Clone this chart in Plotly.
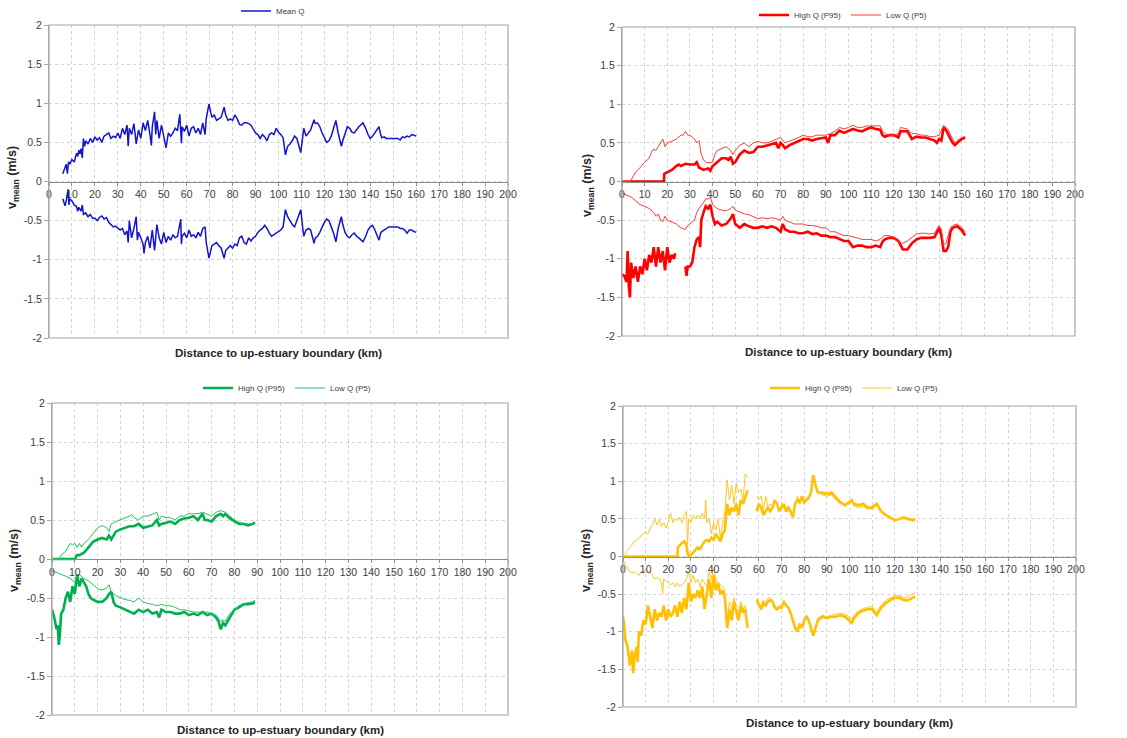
import plotly.graph_objects as go

# ---------------- data ----------------
x_tick_vals = list(range(0, 201, 10))
x_tick_labels = [str(v) for v in x_tick_vals]
y_tick_vals = [2, 1.5, 1, 0.5, 0, -0.5, -1, -1.5, -2]
y_tick_labels = ["2", "1.5", "1", "0.5", "0", "-0.5", "-1", "-1.5", "-2"]

# Panel 1 - Mean Q (blue)
mean_flood = [(6,0.10),(7,0.18),(7.5,0.22),(8,0.10),(8.5,0.25),(9,0.22),(10,0.28),(11,0.25),(12,0.36),(12.5,0.32),(13,0.40),(13.5,0.35),(14,0.42),(14.5,0.30),(15,0.55),(15.5,0.45),(16,0.52),(17,0.48),(18,0.55),(19,0.50),(20,0.57),(21,0.53),(22,0.56),(23,0.50),(24,0.58),(25,0.60),(26,0.62),(27,0.55),(28,0.58),(29,0.56),(30,0.62),(31,0.55),(32,0.68),(33,0.60),(34,0.72),(34.5,0.45),(35,0.68),(36,0.60),(37,0.74),(38,0.48),(39,0.66),(40,0.55),(41,0.75),(42,0.65),(43,0.78),(44,0.60),(44.6,0.46),(45,0.70),(46,0.89),(46.5,0.60),(47,0.78),(48,0.55),(49,0.72),(50,0.58),(51,0.43),(52,0.62),(53,0.58),(54,0.62),(55,0.68),(56,0.65),(57,0.86),(57.7,0.49),(58,0.70),(59,0.64),(60,0.72),(61,0.58),(62,0.68),(63,0.70),(64,0.62),(65,0.68),(66,0.60),(67,0.75),(68,0.60),(68.5,0.80),(69.7,0.99),(70.5,0.88),(71,0.82),(72,0.85),(73,0.78),(74,0.80),(75,0.82),(76.3,0.95),(77,0.85),(78,0.78),(79,0.80),(80,0.78),(81,0.85),(82,0.80),(83,0.73),(84,0.72),(85,0.75),(86,0.75),(87,0.74),(88,0.72),(89,0.67),(90,0.62),(91,0.60),(92,0.55),(93,0.60),(94,0.57),(95,0.52),(96,0.60),(97,0.62),(98,0.60),(99,0.68),(100,0.63),(101,0.60),(102,0.56),(103,0.34),(104,0.45),(105,0.48),(106,0.52),(107,0.58),(108,0.55),(109.7,0.37),(110.5,0.55),(111,0.68),(112,0.58),(113,0.62),(114,0.66),(115.5,0.79),(116,0.74),(117,0.75),(118,0.70),(119,0.62),(120,0.55),(121,0.50),(122,0.52),(123,0.58),(124,0.68),(125,0.78),(126,0.62),(127.4,0.45),(128,0.52),(129,0.62),(130,0.70),(131,0.68),(132,0.63),(133,0.62),(134,0.66),(135,0.70),(136.8,0.75),(138,0.68),(139,0.60),(140,0.55),(141,0.58),(142,0.62),(143.8,0.70),(144.5,0.60),(145,0.56),(146,0.57),(147,0.55),(148,0.55),(150,0.55),(152,0.55),(153,0.53),(154,0.57),(155,0.56),(156,0.58),(157,0.57),(158,0.60),(159,0.59),(160,0.58)]
mean_ebb = [(6,-0.22),(6.5,-0.28),(7,-0.31),(7.5,-0.25),(8.3,-0.10),(8.7,-0.30),(9,-0.22),(10,-0.25),(11,-0.30),(12,-0.32),(12.5,-0.38),(13,-0.33),(14,-0.38),(14.5,-0.30),(15,-0.42),(16,-0.40),(17,-0.45),(18,-0.42),(19,-0.47),(20,-0.47),(21,-0.50),(22,-0.46),(23,-0.44),(24,-0.48),(25,-0.46),(26,-0.52),(27,-0.55),(28,-0.58),(29,-0.57),(30,-0.60),(31,-0.62),(32,-0.60),(33,-0.68),(34,-0.63),(34.5,-0.78),(35,-0.50),(36,-0.72),(37,-0.60),(38,-0.45),(38.5,-0.75),(39,-0.65),(40,-0.72),(41,-0.80),(41.4,-0.92),(42,-0.78),(43,-0.70),(44,-0.85),(45,-0.62),(46,-0.88),(47,-0.55),(48,-0.72),(49,-0.80),(50,-0.65),(51,-0.78),(52,-0.70),(53,-0.75),(54,-0.68),(55,-0.72),(56,-0.70),(57.4,-0.48),(57.7,-0.80),(58,-0.70),(59,-0.66),(60,-0.72),(61,-0.62),(62,-0.70),(63,-0.68),(64,-0.72),(65,-0.65),(66,-0.70),(67,-0.60),(68,-0.58),(68.5,-0.78),(69.7,-0.98),(70.5,-0.90),(71,-0.82),(72,-0.80),(73,-0.78),(74,-0.82),(75,-0.85),(76.3,-0.98),(77,-0.88),(78,-0.85),(79,-0.82),(80,-0.85),(81,-0.80),(82,-0.82),(83,-0.72),(84,-0.70),(85,-0.78),(86,-0.80),(87,-0.72),(88,-0.76),(89,-0.72),(90,-0.70),(91,-0.65),(92,-0.62),(93,-0.60),(94,-0.56),(95,-0.60),(96,-0.66),(97,-0.70),(98,-0.68),(99,-0.66),(100,-0.65),(101,-0.62),(102,-0.58),(103,-0.36),(104,-0.45),(105,-0.50),(106,-0.55),(107,-0.58),(108,-0.50),(109.7,-0.36),(110.5,-0.58),(111,-0.70),(112,-0.62),(113,-0.60),(114,-0.62),(115.5,-0.79),(116,-0.72),(117,-0.70),(118,-0.65),(119,-0.58),(120,-0.52),(121,-0.48),(122,-0.50),(123,-0.58),(124,-0.66),(125,-0.77),(126,-0.60),(127.4,-0.45),(128,-0.55),(129,-0.65),(130,-0.70),(131,-0.72),(132,-0.68),(133,-0.66),(134,-0.70),(135,-0.72),(136.8,-0.77),(138,-0.70),(139,-0.62),(140,-0.58),(141,-0.56),(142,-0.62),(143.8,-0.75),(144.5,-0.66),(145,-0.64),(146,-0.62),(147,-0.60),(148,-0.58),(150,-0.58),(152,-0.58),(153,-0.60),(154,-0.60),(155,-0.62),(156,-0.66),(157,-0.62),(158,-0.62),(159,-0.64),(160,-0.65)]

# Panel 2 - red
red_high_flood = [(0,0),(18.5,0),(18.7,0.10),(20,0.12),(22,0.15),(24,0.20),(25,0.22),(26,0.20),(28,0.23),(30,0.22),(32,0.22),(33,0.25),(34,0.18),(36,0.15),(38,0.17),(39,0.14),(40,0.20),(42,0.25),(44,0.30),(46,0.30),(47,0.28),(48,0.32),(49,0.23),(50,0.25),(52,0.35),(54,0.40),(56,0.37),(58,0.38),(60,0.45),(62,0.45),(64,0.47),(66,0.48),(68,0.50),(69,0.43),(70,0.50),(71,0.47),(72,0.43),(74,0.47),(76,0.50),(78,0.52),(80,0.55),(82,0.55),(84,0.53),(86,0.55),(88,0.56),(90,0.57),(91,0.50),(92,0.60),(94,0.60),(96,0.66),(98,0.63),(100,0.65),(102,0.68),(104,0.66),(106,0.65),(108,0.68),(110,0.70),(112,0.68),(114,0.67),(115,0.60),(116,0.58),(118,0.60),(120,0.60),(122,0.57),(123,0.65),(126,0.65),(127,0.60),(128,0.55),(130,0.58),(132,0.57),(134,0.57),(136,0.55),(138,0.53),(139,0.50),(140,0.55),(141,0.53),(142,0.70),(143,0.67),(144,0.60),(145,0.55),(146,0.50),(147,0.47),(148,0.50),(150,0.55),(151.5,0.57)]
red_low_flood = [(0,0),(3.5,0),(4,0.02),(6,0.12),(8,0.18),(10,0.25),(12,0.30),(13,0.38),(14,0.42),(15,0.40),(16,0.45),(17,0.50),(18,0.55),(19,0.45),(20,0.50),(22,0.52),(24,0.55),(26,0.60),(27,0.60),(28,0.65),(29,0.60),(30,0.60),(32,0.55),(33,0.50),(34,0.53),(35,0.35),(36,0.28),(37,0.25),(38,0.24),(40,0.25),(41,0.35),(42,0.40),(44,0.42),(46,0.45),(48,0.40),(49,0.35),(50,0.40),(52,0.47),(54,0.50),(56,0.45),(58,0.50),(60,0.52),(62,0.50),(64,0.50),(66,0.52),(68,0.55),(70,0.57),(72,0.50),(74,0.52),(76,0.55),(78,0.57),(80,0.60),(82,0.58),(84,0.58),(86,0.60),(88,0.60),(90,0.60),(92,0.62),(94,0.65),(96,0.70),(98,0.68),(100,0.70),(102,0.73),(104,0.70),(106,0.70),(108,0.72),(110,0.72),(112,0.72),(114,0.72),(115,0.65),(116,0.62),(118,0.60),(120,0.60),(122,0.62),(123,0.70),(126,0.68),(128,0.62),(130,0.62),(132,0.60),(134,0.60),(136,0.58),(138,0.58),(140,0.60),(142,0.73),(143,0.70),(144,0.67),(146,0.55),(147,0.50),(148,0.53),(150,0.57),(151.5,0.58)]
red_high_ebb = [(0,-1.20),(1,-1.22),(2,-1.30),(2.5,-0.90),(3,-1.35),(3.5,-1.50),(4,-1.05),(5,-1.25),(6,-1.10),(7,-1.30),(8,-1.10),(9,-1.20),(10,-1.00),(11,-1.15),(12,-0.95),(13,-1.05),(14,-0.85),(15,-1.10),(16,-0.85),(17,-1.05),(18,-0.90),(19,-1.15),(20,-0.85),(21,-1.05),(22,-0.95),(23,-1.00),(23.5,-0.93),(25,None),(28,-1.10),(28.5,-1.22),(29,-1.10),(30,-1.10),(31,-1.05),(32,-0.85),(33,-0.75),(34,-0.72),(34.5,-0.85),(35,-0.50),(36,-0.40),(37,-0.32),(38,-0.35),(39,-0.30),(40,-0.45),(41,-0.55),(42,-0.52),(44,-0.57),(46,-0.55),(48,-0.48),(49,-0.42),(50,-0.55),(52,-0.60),(54,-0.55),(56,-0.58),(58,-0.60),(60,-0.60),(62,-0.58),(64,-0.60),(66,-0.58),(68,-0.60),(70,-0.65),(71,-0.55),(72,-0.62),(74,-0.65),(76,-0.65),(78,-0.67),(80,-0.67),(82,-0.65),(84,-0.68),(86,-0.67),(88,-0.70),(90,-0.70),(92,-0.72),(94,-0.72),(96,-0.75),(98,-0.77),(100,-0.77),(102,-0.85),(104,-0.83),(106,-0.83),(108,-0.85),(110,-0.85),(112,-0.83),(114,-0.85),(115,-0.78),(116,-0.75),(118,-0.73),(120,-0.73),(122,-0.77),(124,-0.88),(126,-0.88),(128,-0.80),(130,-0.75),(132,-0.73),(134,-0.73),(136,-0.73),(138,-0.72),(140,-0.60),(141,-0.70),(142,-0.90),(143,-0.90),(144,-0.85),(145,-0.65),(146,-0.60),(148,-0.58),(150,-0.63),(151.5,-0.70)]
red_low_ebb = [(0,-0.15),(2,-0.17),(4,-0.20),(6,-0.25),(8,-0.30),(10,-0.32),(12,-0.35),(14,-0.40),(15,-0.45),(16,-0.42),(17,-0.50),(18,-0.52),(19,-0.45),(20,-0.50),(22,-0.52),(24,-0.55),(26,-0.60),(28,-0.62),(29,-0.57),(30,-0.55),(32,-0.50),(33,-0.40),(34,-0.35),(36,-0.27),(37,-0.22),(38,-0.23),(39,-0.20),(40,-0.30),(42,-0.35),(44,-0.37),(46,-0.38),(48,-0.35),(49,-0.32),(50,-0.37),(52,-0.40),(54,-0.42),(56,-0.43),(58,-0.45),(60,-0.48),(62,-0.47),(64,-0.48),(66,-0.47),(68,-0.48),(70,-0.50),(71,-0.45),(72,-0.50),(74,-0.52),(76,-0.55),(78,-0.55),(80,-0.55),(82,-0.57),(84,-0.57),(86,-0.58),(88,-0.60),(90,-0.60),(92,-0.65),(94,-0.65),(96,-0.68),(98,-0.70),(100,-0.70),(102,-0.72),(104,-0.73),(106,-0.75),(108,-0.75),(110,-0.75),(112,-0.77),(114,-0.75),(115,-0.72),(116,-0.70),(118,-0.70),(120,-0.72),(122,-0.78),(124,-0.80),(126,-0.77),(128,-0.72),(130,-0.68),(132,-0.67),(134,-0.67),(136,-0.68),(138,-0.67),(140,-0.57),(141,-0.62),(142,-0.82),(143,-0.80),(144,-0.70),(145,-0.60),(146,-0.57),(148,-0.55),(150,-0.60),(151.5,-0.65)]

# Panel 3 - green
green_high_flood = [(0,0),(10,0),(10.5,0.02),(11,0.05),(12,0.05),(14,0.08),(16,0.15),(18,0.22),(20,0.25),(22,0.27),(24,0.25),(25,0.30),(26,0.25),(28,0.35),(30,0.38),(32,0.40),(34,0.42),(36,0.42),(38,0.45),(40,0.40),(42,0.42),(44,0.43),(46,0.50),(47,0.43),(48,0.45),(50,0.47),(52,0.48),(54,0.45),(56,0.50),(58,0.52),(60,0.53),(62,0.55),(64,0.50),(66,0.58),(67,0.50),(68,0.50),(70,0.48),(72,0.55),(74,0.58),(75,0.55),(76,0.58),(78,0.52),(80,0.48),(82,0.45),(84,0.45),(86,0.43),(88,0.45),(89,0.47)]
green_low_flood = [(0,0),(3,0),(4,0.05),(6,0.10),(7,0.15),(8,0.20),(9,0.18),(10,0.20),(11,0.15),(12,0.20),(13,0.15),(14,0.20),(16,0.25),(18,0.32),(20,0.40),(22,0.43),(24,0.40),(25,0.35),(26,0.45),(28,0.48),(30,0.50),(32,0.53),(34,0.55),(35,0.57),(36,0.53),(38,0.50),(40,0.55),(42,0.55),(44,0.57),(46,0.60),(47,0.50),(48,0.55),(50,0.53),(52,0.53),(54,0.50),(56,0.55),(58,0.55),(60,0.58),(62,0.58),(64,0.58),(66,0.60),(68,0.58),(70,0.55),(72,0.60),(74,0.62),(76,0.60),(78,0.55),(80,0.50),(82,0.47),(84,0.45),(86,0.45),(88,0.45),(89,0.45)]
green_high_ebb = [(0,-0.65),(1,-0.75),(2,-0.90),(2.5,-0.85),(3,-1.10),(3.5,-0.95),(4,-0.70),(5,-0.65),(6,-0.50),(7,-0.42),(8,-0.55),(9,-0.35),(10,-0.45),(11,-0.20),(12,-0.35),(13,-0.25),(14,-0.30),(15,-0.35),(16,-0.45),(17,-0.50),(18,-0.52),(20,-0.55),(22,-0.55),(24,-0.50),(25,-0.45),(26,-0.42),(27,-0.55),(28,-0.60),(30,-0.62),(32,-0.65),(34,-0.67),(36,-0.70),(38,-0.65),(40,-0.68),(42,-0.65),(44,-0.70),(46,-0.68),(47,-0.75),(48,-0.65),(50,-0.68),(52,-0.68),(54,-0.70),(56,-0.70),(58,-0.68),(60,-0.72),(62,-0.70),(64,-0.72),(66,-0.68),(68,-0.72),(70,-0.70),(72,-0.75),(73,-0.80),(74,-0.90),(75,-0.82),(76,-0.85),(78,-0.75),(80,-0.65),(82,-0.62),(84,-0.58),(86,-0.58),(88,-0.57),(89,-0.55)]
green_low_ebb = [(0,-0.15),(2,-0.17),(4,-0.20),(6,-0.22),(8,-0.25),(10,-0.30),(11,-0.20),(12,-0.20),(14,-0.25),(16,-0.28),(18,-0.33),(20,-0.38),(22,-0.40),(24,-0.37),(25,-0.33),(26,-0.42),(28,-0.47),(30,-0.50),(32,-0.52),(34,-0.53),(36,-0.55),(38,-0.50),(40,-0.55),(42,-0.57),(44,-0.58),(46,-0.60),(48,-0.58),(50,-0.60),(52,-0.60),(54,-0.62),(56,-0.65),(58,-0.65),(60,-0.67),(62,-0.68),(64,-0.68),(66,-0.68),(68,-0.68),(70,-0.70),(72,-0.72),(74,-0.80),(75,-0.78),(76,-0.80),(78,-0.70),(80,-0.65),(82,-0.60),(84,-0.57),(86,-0.56),(88,-0.55),(89,-0.53)]

# Panel 4 - yellow
yellow_high_flood = [(0,0),(24,0),(24.2,0.12),(25,0.15),(26,0.18),(27,0.20),(28,0.15),(28.5,0.05),(29,0.0),(30,0.02),(31,0.05),(32,0.08),(33,0.12),(34,0.10),(35,0.15),(36,0.20),(37,0.22),(38,0.20),(39,0.25),(40,0.22),(41,0.30),(42,0.25),(43,0.20),(44,0.30),(45,0.35),(45.5,0.55),(46,0.70),(47,0.55),(48,0.65),(49,0.60),(50,0.70),(51,0.55),(52,0.75),(53,0.70),(54,0.80),(55,0.88),(57,None),(59,0.60),(60,0.70),(61,0.65),(62,0.55),(63,0.60),(64,0.65),(65,0.60),(66,0.65),(67,0.75),(68,0.70),(69,0.60),(70,0.65),(71,0.70),(72,0.60),(73,0.65),(74,0.60),(75,0.52),(76,0.70),(77,0.75),(78,0.72),(79,0.80),(80,0.72),(81,0.75),(82,0.78),(83,0.85),(84,1.08),(85,0.95),(86,0.85),(88,0.85),(90,0.83),(92,0.85),(94,0.78),(96,0.72),(98,0.68),(100,0.73),(101,0.75),(102,0.70),(104,0.68),(106,0.70),(108,0.65),(110,0.65),(112,0.70),(114,0.60),(116,0.55),(118,0.52),(120,0.48),(122,0.50),(124,0.52),(126,0.50),(128,0.48),(129,0.50)]
yellow_low_flood = [(0,0),(1,0.03),(2,0.08),(3,0.12),(4,0.15),(5,0.20),(6,0.22),(7,0.25),(8,0.28),(9,0.30),(10,0.33),(11,0.30),(12,0.38),(13,0.42),(14,0.50),(15,0.42),(16,0.50),(17,0.40),(18,0.45),(19,0.38),(20,0.45),(21,0.58),(22,0.45),(23,0.50),(24,0.48),(25,0.52),(26,0.45),(27,0.55),(28,0.60),(28.5,0.15),(29,0.50),(30,0.45),(31,0.55),(32,0.50),(33,0.55),(34,0.50),(35,0.58),(36,0.50),(36.5,0.75),(37,0.45),(38,0.50),(39,0.30),(40,0.45),(41,0.35),(42,0.50),(43,0.25),(44,0.45),(45,0.60),(46,1.02),(47,0.75),(48,0.95),(49,0.70),(50,0.98),(51,0.85),(52,0.90),(53,0.75),(54,1.10),(55,1.05),(57,None),(59,0.80),(60,0.75),(61,0.80),(62,0.60),(63,0.80),(64,0.65),(65,0.70),(66,0.65),(67,0.75),(68,0.70),(69,0.60),(70,0.70),(71,0.65),(72,0.65),(73,0.60),(74,0.60),(75,0.55),(76,0.70),(77,0.80),(78,0.75),(79,0.78),(80,0.73),(81,0.78),(82,0.80),(83,0.87),(84,1.05),(85,0.95),(86,0.85),(88,0.82),(90,0.80),(92,0.82),(94,0.75),(96,0.70),(98,0.68),(100,0.70),(101,0.72),(102,0.67),(104,0.65),(106,0.67),(108,0.63),(110,0.63),(112,0.68),(114,0.60),(116,0.55),(118,0.50),(120,0.48),(122,0.50),(124,0.50),(126,0.48),(128,0.47),(129,0.48)]
yellow_high_ebb = [(0,-0.80),(0.5,-0.90),(1,-1.10),(2,-1.20),(3,-1.45),(4,-1.25),(4.5,-1.55),(5,-1.35),(6,-1.20),(6.5,-1.40),(7,-1.00),(8,-1.05),(9,-0.85),(10,-0.90),(11,-0.65),(12,-0.80),(13,-0.95),(14,-0.70),(15,-0.85),(16,-0.75),(17,-0.80),(18,-0.65),(19,-0.85),(20,-0.70),(21,-0.80),(22,-0.75),(23,-0.65),(24,-0.80),(25,-0.60),(26,-0.75),(27,-0.55),(28,-0.70),(29,-0.35),(30,-0.60),(31,-0.50),(32,-0.55),(33,-0.45),(34,-0.55),(35,-0.40),(36,-0.70),(37,-0.50),(38,-0.30),(39,-0.55),(40,-0.25),(41,-0.45),(42,-0.35),(43,-0.50),(44,-0.45),(45,-0.55),(45.5,-0.80),(46,-0.95),(47,-0.70),(48,-0.85),(49,-0.60),(50,-0.75),(51,-0.85),(52,-0.65),(53,-0.75),(54,-0.70),(55,-0.95),(57,None),(59,-0.58),(60,-0.65),(61,-0.70),(62,-0.62),(63,-0.65),(64,-0.60),(65,-0.58),(66,-0.60),(67,-0.68),(68,-0.70),(69,-0.68),(70,-0.68),(71,-0.60),(72,-0.65),(73,-0.68),(74,-0.75),(75,-0.85),(76,-0.95),(77,-1.00),(78,-0.90),(79,-0.95),(80,-0.85),(81,-0.80),(82,-0.85),(83,-0.95),(84,-1.05),(85,-0.95),(86,-0.85),(88,-0.80),(90,-0.82),(92,-0.80),(94,-0.80),(96,-0.78),(98,-0.80),(100,-0.85),(101,-0.88),(102,-0.82),(104,-0.75),(106,-0.72),(108,-0.70),(110,-0.70),(112,-0.78),(114,-0.68),(116,-0.62),(118,-0.58),(120,-0.55),(122,-0.55),(124,-0.58),(126,-0.58),(128,-0.55),(129,-0.53)]
yellow_low_ebb = [(0,-0.05),(1,-0.10),(2,-0.15),(3,-0.20),(4,-0.22),(5,-0.20),(6,-0.23),(7,-0.25),(8,-0.20),(9,-0.20),(10,-0.18),(11,-0.22),(12,-0.20),(13,-0.25),(14,-0.30),(15,-0.28),(16,-0.30),(17,-0.35),(17.5,-0.50),(18,-0.30),(19,-0.32),(20,-0.35),(21,-0.38),(22,-0.35),(23,-0.40),(24,-0.35),(25,-0.40),(26,-0.38),(27,-0.35),(28,-0.30),(29,-0.20),(30,-0.35),(31,-0.25),(32,-0.35),(33,-0.30),(34,-0.40),(35,-0.30),(36,-0.35),(37,-0.40),(38,-0.20),(39,-0.30),(40,-0.15),(41,-0.30),(42,-0.35),(43,-0.38),(44,-0.40),(45,-0.45),(45.5,-0.60),(46,-0.80),(47,-0.60),(48,-0.70),(49,-0.55),(50,-0.70),(51,-0.75),(52,-0.60),(53,-0.70),(54,-0.65),(55,-0.90),(57,None),(59,-0.55),(60,-0.62),(61,-0.65),(62,-0.58),(63,-0.62),(64,-0.55),(65,-0.55),(66,-0.58),(67,-0.65),(68,-0.68),(69,-0.65),(70,-0.66),(71,-0.58),(72,-0.63),(73,-0.66),(74,-0.72),(75,-0.82),(76,-0.92),(77,-0.98),(78,-0.88),(79,-0.92),(80,-0.82),(81,-0.78),(82,-0.82),(83,-0.92),(84,-1.02),(85,-0.92),(86,-0.82),(88,-0.78),(90,-0.80),(92,-0.78),(94,-0.77),(96,-0.75),(98,-0.77),(100,-0.80),(101,-0.83),(102,-0.78),(104,-0.72),(106,-0.70),(108,-0.67),(110,-0.67),(112,-0.73),(114,-0.65),(116,-0.58),(118,-0.55),(120,-0.52),(122,-0.52),(124,-0.55),(126,-0.53),(128,-0.50),(129,-0.48)]

# ---------------- figure ----------------
W, H = 1127, 738
FONT = "Liberation Sans, Arial, sans-serif"

def fx(px):
    return px / W

def fy(py):
    return 1 - py / H

# plot-area boxes in pixels: left, right, top, bottom
boxes = [(49, 508, 25, 338), (622, 1075, 27, 336), (52, 508, 403, 715), (623, 1076, 406, 707)]
legend_px = [(282, 11), (846, 15), (290, 388), (857, 388)]
xtitle_py = [353, 352, 730, 723]
ytitle_px = [(13, 178), (588, 186), (15, 561), (587, 561)]

panels = [
    [("Mean Q", "#1414CC", 1.5, mean_flood, mean_ebb)],
    [("High Q (P95)", "#FF0000", 2.6, red_high_flood, red_high_ebb),
     ("Low Q (P5)", "#FF3B3B", 1.0, red_low_flood, red_low_ebb)],
    [("High Q (P95)", "#00B050", 2.6, green_high_flood, green_high_ebb),
     ("Low Q (P5)", "#22C262", 1.0, green_low_flood, green_low_ebb)],
    [("High Q (P95)", "#FFC000", 2.6, yellow_high_flood, yellow_high_ebb),
     ("Low Q (P5)", "#FFC81E", 1.0, yellow_low_flood, yellow_low_ebb)],
]

fig = go.Figure()
layout = dict(
    width=W, height=H,
    margin=dict(l=0, r=0, t=0, b=0, autoexpand=False),
    paper_bgcolor="white", plot_bgcolor="white",
    font=dict(family=FONT, color="#404040"),
    shapes=[], annotations=[],
)

GRID = dict(showgrid=True, gridcolor="#d4d4d4", griddash="3px,3px", gridwidth=1)

for i, (box, series) in enumerate(zip(boxes, panels)):
    n = "" if i == 0 else str(i + 1)
    xk, yk = "x" + n, "y" + n
    lk = "legend" + n
    l, r, t, b = box
    ydom = [fy(b), fy(t)]
    layout["xaxis" + n] = dict(
        domain=[fx(l), fx(r)], range=[0, 200], anchor="free",
        position=(ydom[0] + ydom[1]) / 2,
        tickmode="array", tickvals=x_tick_vals, ticktext=x_tick_labels,
        showline=True, linecolor="#8c8c8c", linewidth=1,
        ticks="outside", ticklen=3, tickcolor="#8c8c8c",
        tickfont=dict(size=10.5, color="#404040", family=FONT),
        zeroline=False, fixedrange=True, automargin=False, **GRID,
    )
    layout["yaxis" + n] = dict(
        domain=ydom, range=[-2, 2], anchor=xk,
        tickmode="array", tickvals=y_tick_vals, ticktext=y_tick_labels,
        showline=True, linecolor="#a6a6a6", linewidth=1,
        ticks="outside", ticklen=4, tickcolor="#a6a6a6",
        tickfont=dict(size=10.5, color="#404040", family=FONT),
        zeroline=False, fixedrange=True, automargin=False,
        **GRID,
    )
    # plot frame
    layout["shapes"].append(dict(type="rect", xref=xk + " domain", yref=yk + " domain",
                                 x0=0, x1=1, y0=0, y1=1,
                                 line=dict(color="#a6a6a6", width=1.2), layer="above"))
    # x-axis title
    layout["annotations"].append(dict(
        text="<b>Distance to up-estuary boundary (km)</b>", xref="paper", yref="paper",
        x=fx((l + r) / 2), y=fy(xtitle_py[i]), xanchor="center", yanchor="middle",
        showarrow=False, font=dict(size=11.5, color="#262626", family=FONT)))
    # y-axis title
    tx, ty = ytitle_px[i]
    layout["annotations"].append(dict(
        text="<b>v<sub>mean</sub> (m/s)</b>", xref="paper", yref="paper",
        x=fx(tx), y=fy(ty), xanchor="center", yanchor="middle", textangle=-90,
        showarrow=False, font=dict(size=12.5, color="#262626", family=FONT)))
    lx, ly = legend_px[i]
    layout[lk] = dict(orientation="h", xref="container", yref="container",
                      x=fx(lx), y=fy(ly), xanchor="center", yanchor="middle",
                      font=dict(size=8, color="#404040", family=FONT),
                      bgcolor="rgba(0,0,0,0)", itemwidth=30, tracegroupgap=0,
                      entrywidth=47, entrywidthmode="pixels",
                      itemclick=False, itemdoubleclick=False)
    for name, color, width, flood, ebb in series:
        for k, data in enumerate((flood, ebb)):
            fig.add_trace(go.Scatter(
                x=[p[0] for p in data], y=[p[1] for p in data],
                mode="lines", name=name, xaxis=xk, yaxis=yk,
                line=dict(color=color, width=width),
                showlegend=(k == 0), legend=lk, legendgroup=f"{i}-{name}",
                connectgaps=False, hoverinfo="skip"))

fig.update_layout(**layout)
fig.write_html("out.html", config={"displayModeBar": False},
               post_script="document.body.style.margin='0';document.body.style.overflow='hidden';")
